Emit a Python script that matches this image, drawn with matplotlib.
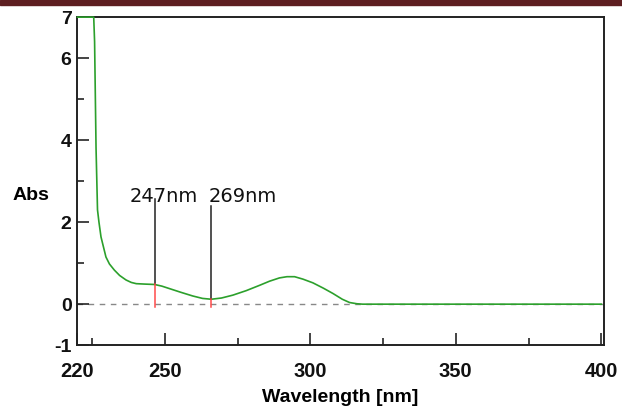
import numpy as np
import matplotlib
matplotlib.use("Agg")
import matplotlib.pyplot as plt
from matplotlib.patches import Rectangle
from matplotlib.ticker import FixedLocator

# spectre (nm, Abs), sature a 7
longueurs = [220, 225.6, 225.9, 226.4, 226.9, 227.4, 228.1, 229.0, 229.8, 231.0,
             232.7, 234.5, 236.7, 238.5, 240.2, 243.0, 246.5, 249.0, 251.6, 255.5,
             259.6, 263.0, 266.0, 269.5, 273.4, 278.0, 282.6, 286.0, 289.4, 292.0,
             294.6, 297.5, 300.9, 304.5, 307.8, 311.0, 313.5, 316.0, 318.0, 400]
absorb = [7.0, 7.0, 6.4, 3.8, 2.3, 2.0, 1.64, 1.38, 1.15, 0.98,
          0.83, 0.70, 0.59, 0.53, 0.50, 0.49, 0.48, 0.44, 0.38, 0.29,
          0.20, 0.14, 0.12, 0.15, 0.22, 0.33, 0.46, 0.56, 0.64, 0.67,
          0.67, 0.61, 0.52, 0.39, 0.26, 0.12, 0.04, 0.01, 0.0, 0.0]

pics = [246.5, 266.0]
pics_labels = ["247nm", "269nm"]
pics_haut = [2.56, 2.40]   # haut des traits noirs

xticks = [220, 250, 300, 350, 400]
xminor = [225, 275, 325, 375]
yticks = [-1, 0, 2, 4, 6, 7]
yminor = [1, 3, 5]

fig = plt.figure(figsize=(6.22, 4.08), dpi=100)
ax = fig.add_axes([0.124, 0.154, 0.847, 0.804])

# bandeau en haut
fig.patches.append(Rectangle((0, 0.988), 1, 0.012, transform=fig.transFigure,
                             color="#5e1f21", zorder=0))

ax.axhline(0, color="#888888", ls=(0, (4, 4)), lw=1, zorder=1)
ax.plot(longueurs, absorb, color="#2ca02c", lw=1.2, zorder=3, clip_on=False)

for x, lab, h in zip(pics, pics_labels, pics_haut):
    y_c = np.interp(x, longueurs, absorb)
    ax.plot([x, x], [y_c, h], color="#222222", lw=1.1, zorder=4)
    ax.plot([x, x], [-0.07, y_c], color="#ff4a4a", lw=1.1, zorder=4)

ax.text(237.9, 2.5, pics_labels[0], fontsize=14, family="DejaVu Sans",
        color="#111111", va="baseline", ha="left", zorder=5)
ax.text(265.0, 2.5, pics_labels[1], fontsize=14, family="DejaVu Sans",
        color="#111111", va="baseline", ha="left", zorder=5)

ax.set_xlim(219.9, 400.9)
ax.set_ylim(-1, 7)
ax.set_xticks(xticks)
ax.set_xticklabels([str(t) for t in xticks])
ax.xaxis.set_minor_locator(FixedLocator(xminor))
ax.set_yticks(yticks)
ax.set_yticklabels([str(t) for t in yticks])
ax.yaxis.set_minor_locator(FixedLocator(yminor))

ax.tick_params(which="major", direction="in", length=8.5, width=1.1, pad=4,
               colors="#111111")
ax.tick_params(which="minor", direction="in", length=5, width=1.1,
               colors="#111111")
ax.tick_params(axis="x", which="major", pad=12)
for t in ax.get_xticklabels():
    t.set_fontfamily("Liberation Sans")
    t.set_fontweight("bold")
    t.set_fontsize(14.5)
for t in ax.get_yticklabels():
    t.set_fontfamily("Liberation Sans")
    t.set_fontweight("bold")
    t.set_fontsize(14)

for s in ax.spines.values():
    s.set_linewidth(1.4)
    s.set_color("#222222")

ax.set_xlabel("Wavelength [nm]", fontsize=14, fontweight="bold",
              family="Liberation Sans", labelpad=6)
ax.set_ylabel("Abs", fontsize=14, fontweight="bold", family="Liberation Sans",
              rotation=0, ha="center", va="center")
ax.yaxis.set_label_coords(-0.087, 0.457)

fig.savefig("out.png", dpi=100)
